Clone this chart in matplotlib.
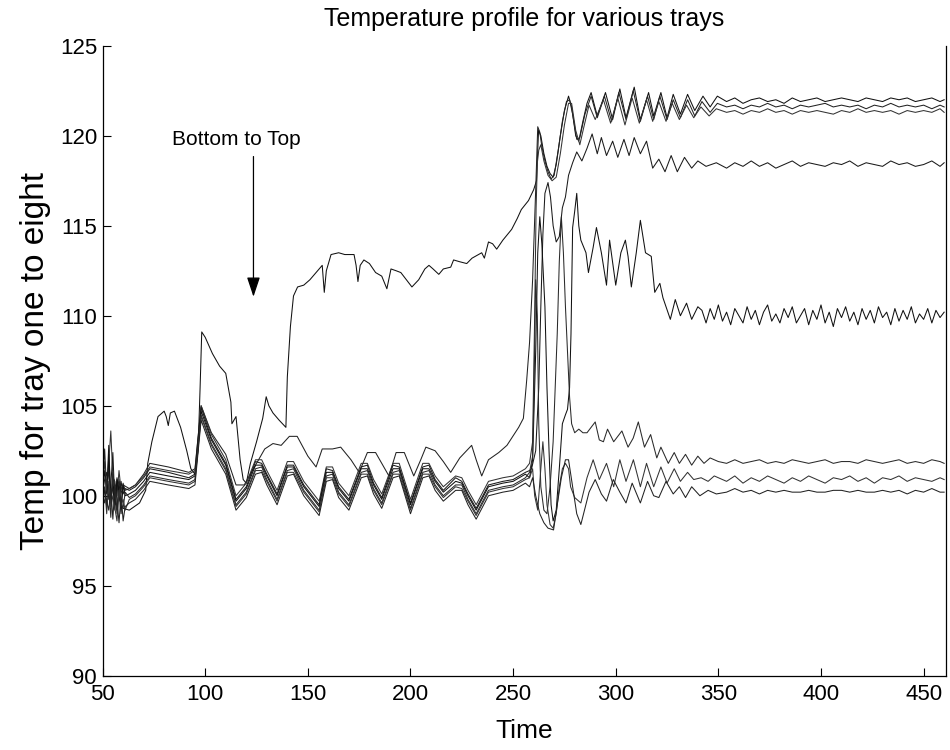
import matplotlib
matplotlib.use("Agg")
import matplotlib.pyplot as plt

plt.rcParams['font.family'] = ['Liberation Sans', 'DejaVu Sans']

# ---------------- data ----------------
x_ticks = [50, 100, 150, 200, 250, 300, 350, 400, 450]
y_ticks = [90, 95, 100, 105, 110, 115, 120, 125]

# shared early time grid for the six "bundle" trays
t_early = [50, 51, 52, 53, 54, 55, 56, 57, 58, 59, 60, 61, 63, 66, 70, 73, 82, 92, 95, 98,
           103, 110, 115, 120, 124.5, 127.5, 130, 135, 140, 143, 148, 155.5, 159, 162, 165,
           170, 176, 179, 182, 186, 191.5, 194.5, 200, 206, 209, 212, 216, 222, 225, 228,
           232, 238, 245, 250, 256]

t_tail = [354, 358, 362, 366, 370, 374, 378, 382, 386, 390, 394, 398, 402, 406, 410, 414,
          418, 422, 426, 430, 434, 438, 442, 446, 450, 454, 458, 460]

t_tail_fine = [342, 344, 346, 348, 350, 352, 354, 356, 358, 360, 362, 364, 366, 368, 370,
               372, 374, 376, 378, 380, 382, 384, 386, 388, 390, 392, 394, 396, 398, 400,
               402, 404, 406, 408, 410, 412, 414, 416, 418, 420, 422, 424, 426, 428, 430,
               432, 434, 436, 438, 440, 442, 444, 446, 448, 450, 452, 454, 456, 458, 460]

# tray 1 (hump, spike, 113 plateau, ends ~122.0)
t_tray1 = [50, 51, 52, 53, 54, 55, 56, 57, 58, 59, 60, 63, 68, 71, 72, 74, 77, 80, 81, 82,
           83, 85, 88, 91, 93, 95, 96.5, 97.5, 98.3, 100, 103.5, 107, 110, 112.5, 113, 115,
           117, 118.5, 120, 122, 125, 128, 129.7, 131, 133, 136, 139.3, 140, 141.5, 143, 145,
           148, 151, 154, 157, 158, 159, 161.3, 165, 168, 172.5, 173.5, 174.4, 175.5, 177.3,
           180, 183, 186, 188.5, 190.5, 193, 195.3, 198, 200.7, 204, 207, 209, 211, 213.8,
           216, 219.6, 221, 224, 227.4, 230, 234.7, 236, 238, 240, 242, 245, 249.3, 252, 254,
           257.5, 260, 261.4, 262.4, 263.5, 265, 266.5, 268, 269.5, 271, 273, 275, 277, 278.5,
           280.5, 282, 284, 286, 288, 291, 295, 298.5, 302, 305, 309, 312, 316, 318.5, 322,
           325, 328, 331.5, 335, 338.5, 342.5, 346, 349.5]
y_tray1 = [100.5, 101.4, 100.1, 102.8, 99.6, 100.9, 99.5, 100.6, 100.8, 99.4, 99.3, 99.2,
           99.6, 100.3, 101.8, 103.0, 104.4, 104.7, 104.4, 103.9, 104.6, 104.7, 103.8, 102.5,
           101.5, 101.2, 102.5, 106.0, 109.1, 108.8, 107.9, 107.2, 106.8, 105.2, 104.0, 104.4,
           102.0, 100.9, 100.7, 101.8, 103.0, 104.3, 105.5, 105.0, 104.6, 104.2, 103.8, 106.6,
           109.4, 111.1, 111.6, 111.7, 112.0, 112.4, 112.8, 111.3, 112.5, 113.4, 113.5, 113.4,
           113.4, 112.8, 111.9, 112.8, 113.1, 112.9, 112.4, 112.2, 111.5, 112.6, 112.5, 112.4,
           112.0, 111.6, 112.0, 112.6, 112.8, 112.6, 112.3, 112.6, 112.7, 113.1, 113.0, 112.9,
           113.2, 113.5, 113.2, 114.1, 114.0, 113.7, 114.2, 114.8, 115.4, 115.9, 116.4, 117.0,
           117.5, 120.3, 120.0, 119.0, 118.3, 117.9, 117.7, 118.4, 120.0, 121.4, 122.2, 121.6,
           120.0, 119.7, 120.8, 121.8, 122.4, 121.1, 122.4, 120.9, 122.6, 121.0, 122.7, 120.9,
           122.4, 121.1, 122.4, 121.0, 122.3, 121.2, 122.3, 121.4, 122.2, 121.6, 122.2]
y_tray1_tail = [121.9, 122.1, 121.8, 122.0, 122.1, 121.9, 122.0, 121.8, 122.1, 121.9, 122.0,
                122.1, 121.9, 122.0, 122.1, 122.0, 121.9, 122.1, 122.0, 121.9, 122.1, 122.0,
                122.1, 121.9, 122.0, 122.1, 121.9, 122.0]

# tray 2 (upper early line, ends ~121.7)
t_tray2 = [50, 51, 52, 53, 54, 55, 56, 57, 58, 59, 60, 63, 66, 70, 73, 82, 92, 95, 98, 103,
           110, 115, 119, 124, 129, 133, 137, 141, 144.8, 150, 154, 157, 162, 166, 171, 175,
           179, 183, 186, 189.5, 193, 197, 201.6, 205, 207.5, 212, 216, 219.6, 224, 229.8,
           232, 234.7, 238, 243, 247, 252.7, 255, 256.6, 258, 259.5, 261, 262, 263, 264,
           265.5, 267, 268.5, 270, 272, 274, 276, 277.5, 279, 281, 282.5, 285, 288, 291,
           294.5, 298, 301.5, 305, 308.5, 312, 315.5, 318.5, 321.5, 325, 328, 331.5, 335,
           338.5, 342, 346, 349.5]
y_tray2 = [100.8, 102.6, 100.2, 101.5, 99.8, 101.2, 100.4, 99.2, 100.9, 100.1, 100.6, 100.4,
           100.6, 101.2, 101.8, 101.6, 101.3, 101.5, 105.0, 103.5, 102.3, 100.6, 100.6, 101.6,
           102.6, 102.9, 102.8, 103.3, 103.3, 102.2, 101.6, 102.6, 102.6, 102.7, 102.0, 101.3,
           102.4, 102.4, 101.8, 101.1, 102.4, 102.4, 101.1, 102.0, 102.7, 102.5, 101.9, 101.3,
           102.1, 102.8, 102.0, 101.1, 102.0, 102.4, 102.8, 103.8, 104.3, 106.4, 108.5, 112.0,
           117.0, 120.5, 120.2, 119.4, 118.6, 118.0, 117.6, 117.8, 119.2, 120.8, 121.9, 122.0,
           121.2, 119.8, 119.9, 121.2, 122.2, 121.0, 122.2, 120.8, 122.4, 120.9, 122.5, 120.8,
           122.2, 120.9, 122.2, 120.9, 122.0, 121.0, 122.0, 121.1, 121.9, 121.3, 121.8]
y_tray2_tail = [121.6, 121.7, 121.5, 121.7, 121.6, 121.8, 121.6, 121.7, 121.5, 121.7, 121.6,
                121.7, 121.8, 121.6, 121.7, 121.6, 121.7, 121.5, 121.7, 121.6, 121.8, 121.6,
                121.7, 121.6, 121.7, 121.5, 121.7, 121.6]

# tray 3 (bundle, ends ~121.4)
y_tray3_early = [100.6, 101.9, 100.3, 101.8, 103.6, 101.0, 100.8, 100.0, 101.4, 100.3, 100.7,
                 100.3, 100.4, 100.6, 101.1, 101.6, 101.4, 101.2, 101.4, 105.0, 103.4, 102.0,
                 100.0,
                 100.7, 102.0, 102.0, 101.4, 100.3, 101.9, 101.9, 100.8, 99.7, 101.6, 101.6,
                 100.7, 100.0, 101.8, 101.8, 100.9, 100.1, 101.8, 101.8, 99.8, 101.8, 101.8,
                 101.1, 100.5, 101.1, 101.0, 100.3, 99.5, 100.8, 101.0, 101.1, 101.5]
t_tray3_late = [258, 259.5, 260.5, 261.2, 261.8, 262.5, 263.5, 265, 267, 269, 271, 273, 275,
                277, 278.5, 280.5, 282.5, 284.5, 287, 290, 294, 297.5, 301, 304.5, 308, 311.5,
                315, 318, 321, 324.5, 327.5, 331, 334.5, 338, 341.5, 345.5, 349]
y_tray3_late = [101.8, 103.0, 110.0, 116.0, 118.5, 119.2, 119.5, 118.6, 117.8, 117.5, 117.7,
                119.0, 120.6, 121.8, 121.8, 120.3, 119.5, 120.5, 121.7, 120.9, 122.0, 120.7,
                122.1, 120.6, 122.1, 120.7, 122.0, 120.8, 121.9, 120.8, 121.8, 120.9, 121.7,
                121.0, 121.6, 121.1, 121.5]
y_tray3_tail = [121.3, 121.4, 121.2, 121.4, 121.3, 121.5, 121.3, 121.4, 121.2, 121.4, 121.3,
                121.4, 121.3, 121.2, 121.4, 121.3, 121.5, 121.3, 121.4, 121.3, 121.4, 121.2,
                121.4, 121.3, 121.4, 121.3, 121.5, 121.3]

# tray 4 (bundle, ends ~118.4)
y_tray4_early = [100.2, 100.9, 101.3, 99.8, 100.6, 102.4, 99.5, 100.9, 99.7, 100.8, 100.1,
                 100.4, 100.3, 100.5, 101.0, 101.5, 101.3, 101.0, 101.2, 104.9, 103.2, 101.8,
                 99.8,
                 100.5, 101.9, 101.8, 101.2, 100.1, 101.7, 101.7, 100.6, 99.5, 101.5, 101.4,
                 100.5, 99.8, 101.6, 101.7, 100.7, 99.9, 101.7, 101.6, 99.6, 101.6, 101.7,
                 100.9, 100.3, 101.0, 100.8, 100.1, 99.3, 100.6, 100.8, 100.9, 101.3]
t_tray4_late = [258, 259, 261, 262.5, 263.5, 264.5, 265.5, 267, 268.2, 269.5, 271, 272.5, 274,
                275.5, 277, 279, 281, 283.5, 286, 288.5, 291, 293, 295.5, 298.5, 301, 304,
                306.5, 309, 312, 315, 318, 321, 324, 327, 330, 333.5, 337, 340, 344, 349]
y_tray4_late = [101.4, 101.5, 102.5, 106.0, 110.5, 114.5, 116.8, 117.4, 116.6, 115.0, 114.1,
                114.4, 116.0, 116.6, 117.8, 118.5, 119.1, 118.6, 119.3, 120.1, 119.0, 119.9,
                118.9, 119.7, 118.8, 119.8, 118.9, 119.9, 119.0, 119.7, 118.2, 118.7, 118.0,
                118.9, 118.0, 118.8, 118.2, 118.6, 118.3, 118.5]
y_tray4_tail = [118.2, 118.5, 118.3, 118.6, 118.3, 118.5, 118.2, 118.4, 118.6, 118.3, 118.5,
                118.4, 118.3, 118.5, 118.4, 118.6, 118.3, 118.5, 118.4, 118.3, 118.6, 118.4,
                118.5, 118.3, 118.4, 118.6, 118.3, 118.5]

# tray 5 (bundle, ends ~110 with heavy noise)
y_tray5_early = [100.4, 100.2, 99.4, 102.3, 99.9, 100.5, 99.2, 101.0, 100.2, 99.0, 100.6,
                 100.0, 100.1, 100.3, 100.8, 101.3, 101.1, 100.9, 101.1, 104.7, 103.1, 101.7,
                 99.7,
                 100.4, 101.7, 101.7, 101.1, 100.0, 101.6, 101.6, 100.5, 99.4, 101.3, 101.3,
                 100.4, 99.7, 101.5, 101.5, 100.6, 99.8, 101.5, 101.5, 99.5, 101.5, 101.5,
                 100.8, 100.2, 100.8, 100.7, 100.0, 99.2, 100.5, 100.7, 100.8, 101.2]
t_tray5_late = [258, 259.5, 261, 262, 263, 264, 265.5, 266.5, 267.5, 268.5, 269.5, 271, 272.5,
                274, 275.5, 276.5, 277.5, 278.2, 279, 280, 281, 282, 283, 285.5, 286.7, 289,
                290.6, 293, 295.5, 297, 300, 302.5, 304.7, 306, 307.6, 310, 312, 314.5, 317.3,
                319, 321.5, 323, 326.6, 329, 331.5, 334.5, 337, 340]
y_tray5_late = [101.0, 102.0, 108.0, 113.5, 115.5, 114.0, 110.5, 106.0, 102.5, 99.5, 98.6,
                99.2, 101.5, 104.0, 104.5, 104.8, 106.0, 109.0, 114.9, 115.8, 116.8, 115.0,
                114.2, 113.5, 112.4, 113.8, 114.9, 113.5, 111.7, 114.2, 111.7, 113.5, 114.2,
                113.3, 111.6, 113.5, 115.3, 113.5, 113.3, 111.3, 111.8, 111.0, 109.8, 110.9,
                110.0, 110.7, 109.8, 110.5]
y_tray5_tail = [110.3, 109.6, 110.4, 109.8, 110.6, 109.7, 110.2, 109.5, 110.4, 110.0,
                109.6, 110.5, 109.8, 110.3, 109.5, 110.2, 110.6, 109.7, 110.1, 109.6,
                110.4, 109.9, 110.5, 109.6, 110.0, 110.4, 109.5, 110.3, 109.8, 110.6,
                109.6, 110.2, 109.4, 110.4, 109.9, 110.5, 109.7, 110.2, 109.5, 110.4,
                109.8, 110.3, 109.6, 110.5, 109.9, 110.2, 109.5, 110.4, 109.7, 110.3,
                109.8, 110.5, 109.6, 110.1, 109.8, 110.4, 109.6, 110.3, 109.9, 110.2]

# tray 6 (bundle, ends ~101.9)
y_tray6_early = [100.0, 99.6, 100.9, 100.4, 98.8, 101.3, 100.3, 99.0, 100.2, 99.6, 99.3,
                 100.2, 99.9, 100.1, 100.6, 101.1, 100.9, 100.7, 100.9, 104.5, 102.9, 101.5,
                 99.5,
                 100.2, 101.5, 101.6, 100.9, 99.8, 101.4, 101.5, 100.3, 99.2, 101.1, 101.2,
                 100.2, 99.5, 101.3, 101.4, 100.4, 99.6, 101.3, 101.4, 99.3, 101.3, 101.4,
                 100.6, 100.0, 100.6, 100.6, 99.8, 99.0, 100.3, 100.5, 100.6, 101.0]
t_tray6_late = [258, 259.5, 260.2, 261, 261.8, 262.5, 263.5, 265, 266.5, 268, 269.5, 270.5,
                271.5, 272.5, 273.5, 274.5, 275.5, 276.5, 277.5, 278.5, 280, 282, 284, 286,
                288, 290, 292, 294, 296, 299, 303, 306, 308.5, 311, 314, 317, 320, 322, 325.6,
                328.5, 331, 334, 337, 340, 343, 346, 350]
y_tray6_late = [101.3, 102.2, 106.0, 112.0, 110.0, 104.0, 100.5, 99.2, 99.0, 100.5, 103.0,
                106.0, 109.0, 113.0, 115.5, 113.5, 110.5, 108.0, 105.5, 104.0, 103.5, 103.7,
                103.5, 103.5, 103.8, 104.1, 103.1, 103.0, 103.7, 103.0, 103.6, 102.7, 103.2,
                104.1, 102.7, 103.4, 102.1, 102.7, 101.8, 102.4, 101.8, 102.3, 101.7, 102.2,
                101.8, 102.1, 101.9]
y_tray6_tail = [101.8, 102.0, 101.8, 101.9, 102.0, 101.8, 101.9, 101.8, 102.0, 101.9, 101.8,
                101.9, 102.0, 101.8, 101.9, 101.9, 101.8, 102.0, 101.9, 101.8, 101.9, 102.0,
                101.8, 101.9, 101.8, 102.0, 101.9, 101.8]

# tray 7 (bundle, ends ~100.9)
y_tray7_early = [100.1, 100.5, 99.0, 100.8, 99.4, 100.0, 99.3, 98.6, 100.3, 99.5, 99.8, 99.2,
                 99.8, 100.0, 100.5, 101.0, 100.8, 100.6, 100.8, 104.4, 102.8, 101.4, 99.4,
                 100.1, 101.4, 101.4, 100.8, 99.7, 101.3, 101.3, 100.2, 99.1, 101.0, 101.0,
                 100.1, 99.4, 101.2, 101.2, 100.3, 99.5, 101.2, 101.2, 99.2, 101.2, 101.2,
                 100.5, 99.9, 100.5, 100.4, 99.7, 98.9, 100.2, 100.4, 100.5, 100.9]
t_tray7_late = [258, 259.5, 260.5, 262, 263.5, 264.5, 265.5, 266.5, 268, 269.5, 271, 272.5,
                274, 275.5, 277, 278, 280, 283, 286, 289, 292, 295.5, 299, 302, 305, 308.6,
                312, 315, 318.5, 322, 325, 328.5, 331.5, 335, 338, 341.6, 345, 348]
y_tray7_late = [101.0, 101.5, 100.0, 99.2, 101.5, 103.0, 101.5, 99.5, 98.4, 98.2, 99.0,
                100.5, 101.5, 101.8, 101.5, 100.5, 99.9, 99.6, 101.0, 102.0, 100.9, 101.8,
                100.5, 102.0, 100.8, 102.0, 100.5, 101.8, 100.5, 101.6, 100.7, 101.5, 100.8,
                101.3, 100.9, 101.0, 100.8, 101.1]
y_tray7_tail = [100.8, 101.1, 100.7, 101.0, 100.8, 101.1, 100.9, 100.7, 101.0, 100.8, 101.1,
                100.9, 100.7, 101.0, 100.9, 101.1, 100.8, 101.0, 100.7, 101.0, 100.9, 101.1,
                100.8, 101.0, 100.9, 100.8, 101.0, 100.9]

# tray 8 (bundle, ends ~100.2)
y_tray8_early = [99.9, 100.3, 99.7, 99.2, 100.4, 98.7, 100.6, 99.8, 98.5, 100.1, 98.6, 99.4,
                 99.6, 99.8, 100.3, 100.8, 100.6, 100.4, 100.6, 104.2, 102.6, 101.2, 99.2,
                 99.9, 101.2, 101.3, 100.6, 99.5, 101.1, 101.2, 100.0, 98.9, 100.8, 100.9,
                 99.9, 99.2, 101.0, 101.1, 100.1, 99.3, 101.0, 101.1, 99.0, 101.0, 101.1,
                 100.3, 99.7, 100.3, 100.3, 99.5, 98.7, 100.0, 100.2, 100.3, 100.7]
t_tray8_late = [258, 259.5, 261, 263, 265, 267, 269.7, 271.5, 273.5, 275.5, 277, 279, 281,
                283, 285, 287, 290, 293, 295.5, 298.8, 302, 305, 308, 312, 315.5, 318.5, 321,
                324.5, 328, 331, 334, 337, 341, 345, 349]
y_tray8_late = [100.5, 101.0, 100.0, 99.0, 98.5, 98.2, 98.1, 99.5, 101.0, 102.0, 102.0,
                100.5, 99.0, 98.4, 99.3, 100.2, 100.9, 100.1, 99.7, 100.9, 100.2, 99.6, 100.7,
                99.6, 100.8, 100.0, 99.9, 100.8, 100.1, 100.5, 99.9, 100.5, 100.0, 100.3, 100.1]
y_tray8_tail = [100.2, 100.4, 100.2, 100.3, 100.1, 100.3, 100.2, 100.3, 100.2, 100.2, 100.3,
                100.2, 100.2, 100.3, 100.3, 100.2, 100.3, 100.2, 100.2, 100.3, 100.2, 100.3,
                100.1, 100.3, 100.2, 100.4, 100.2, 100.2]

# ---------------- assemble series ----------------
series = [
    (t_tray1 + t_tail, y_tray1 + y_tray1_tail),
    (t_tray2 + t_tail, y_tray2 + y_tray2_tail),
    (t_early + t_tray3_late + t_tail, y_tray3_early + y_tray3_late + y_tray3_tail),
    (t_early + t_tray4_late + t_tail, y_tray4_early + y_tray4_late + y_tray4_tail),
    (t_early + t_tray5_late + t_tail_fine, y_tray5_early + y_tray5_late + y_tray5_tail),
    (t_early + t_tray6_late + t_tail, y_tray6_early + y_tray6_late + y_tray6_tail),
    (t_early + t_tray7_late + t_tail, y_tray7_early + y_tray7_late + y_tray7_tail),
    (t_early + t_tray8_late + t_tail, y_tray8_early + y_tray8_late + y_tray8_tail),
]
for i, (t, y) in enumerate(series):
    assert len(t) == len(y), (i + 1, len(t), len(y))

# ---------------- figure ----------------
fig = plt.figure(figsize=(9.5, 7.5), dpi=100)
ax = fig.add_axes([0.108, 0.099, 0.888, 0.840])

line_colors = ['#111111', '#222222', '#333333', '#1a1a1a', '#111111', '#2a2a2a', '#333333', '#222222']
for (t, y), c in zip(series, line_colors):
    ax.plot(t, y, color=c, lw=0.75)

ax.set_xlim(50, 461)
ax.set_ylim(90, 125)
ax.set_xticks(x_ticks)
ax.set_yticks(y_ticks)
ax.tick_params(direction='in', length=6, width=0.8, labelsize=16, colors='black')
ax.tick_params(axis='x', pad=6)
ax.tick_params(axis='y', pad=4)
ax.spines['top'].set_visible(False)
for s in ['left', 'bottom', 'right']:
    ax.spines[s].set_linewidth(0.9)
    ax.spines[s].set_color('black')

ax.set_title('Temperature profile for various trays', fontsize=18, pad=14)
ax.set_xlabel('Time', fontsize=19, labelpad=10)
ax.set_ylabel('Temp for tray one to eight', fontsize=24, labelpad=6)

ax.text(115, 119.8, 'Bottom to Top', fontsize=15, ha='center', va='center')
ax.annotate('', xy=(123.5, 110.9), xytext=(123.5, 119.0),
            arrowprops=dict(arrowstyle='-|>,head_length=1.2,head_width=0.4',
                            color='black', lw=0.9))

fig.savefig('out.png', dpi=100)
